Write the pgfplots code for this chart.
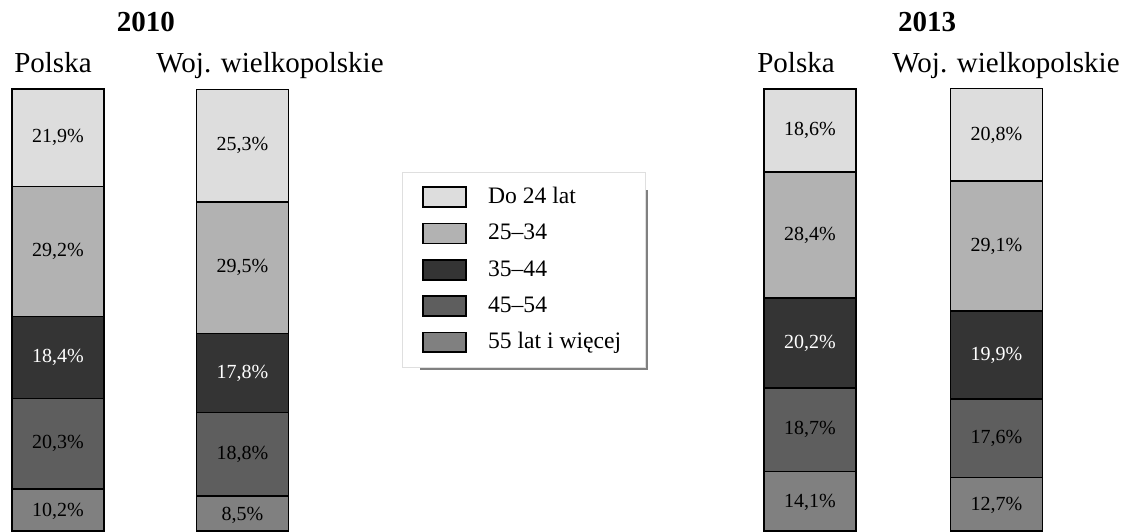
\documentclass[border=0pt]{standalone}
\usepackage{fontspec}
\setmainfont{Liberation Serif}
\usepackage{pgfplots}
\usepackage{pgfplotstable}
\pgfplotsset{compat=1.18}

\definecolor{g24}{HTML}{DDDDDD}
\definecolor{g25}{HTML}{B2B2B2}
\definecolor{g35}{HTML}{343434}
\definecolor{g45}{HTML}{5E5E5E}
\definecolor{g55}{HTML}{808080}

% x = bar centre in px of the 1137 px wide picture
\pgfplotstableread{
x     c24  c2534 c3544 c4554 c55
58    21.9 29.2  18.4  20.3  10.2
242.5 25.3 29.5  17.8  18.8  8.5
810   18.6 28.4  20.2  18.7  14.1
996.5 20.8 29.1  19.9  17.6  12.7
}\wiek

\tikzset{
  lab/.style={font=\fontsize{10}{12}\selectfont, anchor=center},
  hd/.style={anchor=base, inner sep=0pt, font=\fontsize{14.5}{17}\selectfont},
}

\begin{document}
\begin{tikzpicture}
\begin{axis}[
  width=568.5pt, height=265.5pt, scale only axis,
  hide axis,
  xmin=0, xmax=1137,
  ymin=0.7, ymax=120.03,
  ybar stacked, bar width=46pt,
  reverse legend,
  legend cell align=left,
  legend image post style={xscale=1.26, yscale=1.75},
  legend style={at={(0.3536,0.676)}, anchor=north west,
    draw=gray!25, fill=white,
    font=\fontsize{11.8}{13.5}\selectfont,
    inner xsep=10pt, inner ysep=5.5pt, row sep=4.75pt,
    /tikz/every odd column/.append style={column sep=8.5pt}},
]
\addplot[fill=g55, draw=black, line width=0.8pt, area legend] table[x=x, y=c55] {\wiek};
\addplot[fill=g45, draw=black, line width=0.8pt, area legend] table[x=x, y=c4554] {\wiek};
\addplot[fill=g35, draw=black, line width=0.8pt, area legend] table[x=x, y=c3544] {\wiek};
\addplot[fill=g25, draw=black, line width=0.8pt, area legend] table[x=x, y=c2534] {\wiek};
\addplot[fill=g24, draw=black, line width=0.8pt, area legend] table[x=x, y=c24] {\wiek};
\legend{55 lat i więcej, 45–54, 35–44, 25–34, Do 24 lat}

% shadow of the legend box (the legend is drawn on top of it)
\fill[gray] (rel axis cs:0.3694,0.6422) rectangle (rel axis cs:0.5699,0.3032);

\coordinate (bl) at (rel axis cs:0,0);
\coordinate (tr) at (rel axis cs:1,1);
% centres of the segments (for the value labels)
\coordinate (a1) at (axis cs:58,5.1);
\coordinate (a2) at (axis cs:58,20.35);
\coordinate (a3) at (axis cs:58,39.7);
\coordinate (a4) at (axis cs:58,63.5);
\coordinate (a5) at (axis cs:58,89.05);
\coordinate (b1) at (axis cs:242.5,4.25);
\coordinate (b2) at (axis cs:242.5,17.9);
\coordinate (b3) at (axis cs:242.5,36.2);
\coordinate (b4) at (axis cs:242.5,59.85);
\coordinate (b5) at (axis cs:242.5,87.25);
\coordinate (c1) at (axis cs:810,7.05);
\coordinate (c2) at (axis cs:810,23.45);
\coordinate (c3) at (axis cs:810,42.9);
\coordinate (c4) at (axis cs:810,67.2);
\coordinate (c5) at (axis cs:810,90.7);
\coordinate (d1) at (axis cs:996.5,6.35);
\coordinate (d2) at (axis cs:996.5,21.5);
\coordinate (d3) at (axis cs:996.5,40.25);
\coordinate (d4) at (axis cs:996.5,64.75);
\coordinate (d5) at (axis cs:996.5,89.7);

\node[hd, font=\fontsize{14.5}{17}\selectfont\bfseries] at (rel axis cs:0.1284,0.9416) {2010};
\node[hd] at (rel axis cs:0.0466,0.8644) {Polska};
\node[hd] at (rel axis cs:0.2375,0.8644) {Woj. wielkopolskie};
\node[hd, font=\fontsize{14.5}{17}\selectfont\bfseries] at (rel axis cs:0.8153,0.9416) {2013};
\node[hd] at (rel axis cs:0.7001,0.8644) {Polska};
\node[hd] at (rel axis cs:0.8848,0.8644) {Woj. wielkopolskie};
\end{axis}

\node[lab] at (a1) {10,2\%};
\node[lab] at (a2) {20,3\%};
\node[lab,text=white] at (a3) {18,4\%};
\node[lab] at (a4) {29,2\%};
\node[lab] at (a5) {21,9\%};
\node[lab] at (b1) {8,5\%};
\node[lab] at (b2) {18,8\%};
\node[lab,text=white] at (b3) {17,8\%};
\node[lab] at (b4) {29,5\%};
\node[lab] at (b5) {25,3\%};
\node[lab] at (c1) {14,1\%};
\node[lab] at (c2) {18,7\%};
\node[lab,text=white] at (c3) {20,2\%};
\node[lab] at (c4) {28,4\%};
\node[lab] at (c5) {18,6\%};
\node[lab] at (d1) {12,7\%};
\node[lab] at (d2) {17,6\%};
\node[lab,text=white] at (d3) {19,9\%};
\node[lab] at (d4) {29,1\%};
\node[lab] at (d5) {20,8\%};

\pgfresetboundingbox
\useasboundingbox (bl) rectangle (tr);
\end{tikzpicture}
\end{document}
